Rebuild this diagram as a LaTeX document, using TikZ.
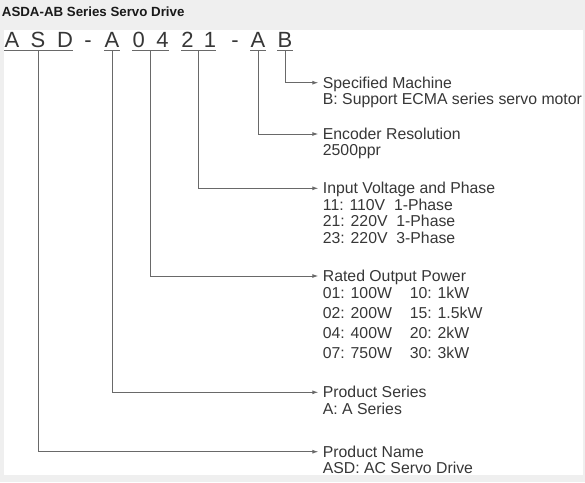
\documentclass[tikz,border=0pt]{standalone}
\usepackage{fontspec}
\setmainfont{Liberation Sans}
\usetikzlibrary{arrows.meta,calc}

\definecolor{pagegray}{RGB}{239,239,239}
\definecolor{inkgray}{RGB}{55,55,55}
\definecolor{linegray}{RGB}{105,105,105}

\begin{document}
\begin{tikzpicture}[x=1pt, y=-1pt,
	code/.style = {inner sep=0pt, anchor=base, text=inkgray, font=\fontsize{22}{26}\selectfont},
	uline/.style = {draw=linegray, line width=0.9pt},
	conn/.style = {draw=linegray, line width=0.9pt, -{Latex[length=6pt,width=4pt]}},
	head/.style = {inner sep=0pt, anchor=base west, text height=11pt, text depth=0pt,
		text=inkgray, font=\fontsize{15.8}{16.5}\selectfont},
	info/.style = {inner sep=0pt, anchor=north west, align=left,
		text=inkgray, font=\fontsize{15.8}{16.5}\selectfont}]
		% page and panel
		\useasboundingbox (0,0) rectangle (585,482);
		\fill[pagegray] (0,0) rectangle (585,482);
		\fill[white] (4,30) rectangle (583,475);
		\node[anchor=base west, inner sep=0pt, text=black!90,
			font=\bfseries\fontsize{13.3}{16}\selectfont] (title) at (1.7,16.7) {ASDA-AB Series Servo Drive};
		% model code
		\node[code] (cA1) at (12,47.3) {A};
		\node[code] (cS) at (38,47.3) {S};
		\node[code] (cD) at (65,47.3) {D};
		\node[code] (dash1) at (88,47.3) {-};
		\node[code] (cA2) at (112,47.3) {A};
		\node[code] (c0) at (138.8,47.3) {0};
		\node[code] (c4) at (162.5,47.3) {4};
		\node[code] (c2) at (187.5,47.3) {2};
		\node[code] (c1) at (210,47.3) {1};
		\node[code] (dash2) at (235,47.3) {-};
		\node[code] (cA3) at (258,47.3) {A};
		\node[code] (cB) at (285,47.3) {B};
		\draw[uline] ([yshift=-3.4pt]cA1.base west) -- ([yshift=-3.4pt]cD.base east);
		\draw[uline] ([yshift=-3.4pt]cA2.base west) -- ([yshift=-3.4pt]cA2.base east);
		\draw[uline] ([yshift=-3.4pt]c0.base west) -- ([yshift=-3.4pt]c4.base east);
		\draw[uline] ([yshift=-3.4pt]c2.base west) -- ([yshift=-3.4pt]c1.base east);
		\draw[uline] ([yshift=-3.4pt]cA3.base west) -- ([yshift=-3.4pt]cA3.base east);
		\draw[uline] ([yshift=-3.4pt]cB.base west) -- ([yshift=-3.4pt]cB.base east);
		% descriptions
		\node[head] (hMachine) at (322.7,88.2) {Specified Machine};
		\node[info] (dMachine) at ([yshift=-5pt]hMachine.base west) {B: Support ECMA series servo motor};
		\node[head] (hEncoder) at (322.7,139.5) {Encoder Resolution};
		\node[info] (dEncoder) at ([yshift=-5pt]hEncoder.base west) {2500ppr};
		\node[head] (hVoltage) at (322.7,193.8) {Input Voltage and Phase};
		\node[info] (dVoltage) at ([yshift=-5pt]hVoltage.base west) {11: 110V\ \ 1-Phase\\21: 220V\ \ 1-Phase\\23: 220V\ \ 3-Phase};
		\node[head] (hPower) at (322.7,281.5) {Rated Output Power};
		\node[info] (dPower) at ([yshift=-2.5pt]hPower.base west) {\def\arraystretch{1.212}%
			\begin{tabular}{@{}p{87pt}@{}l@{}}
				01: 100W & 10: 1kW\\
				02: 200W & 15: 1.5kW\\
				04: 400W & 20: 2kW\\
				07: 750W & 30: 3kW
			\end{tabular}};
		\node[head] (hSeries) at (322.7,397.8) {Product Series};
		\node[info] (dSeries) at ([yshift=-5pt]hSeries.base west) {A: A Series};
		\node[head] (hName) at (322.7,457.2) {Product Name};
		\node[info] (dName) at ([yshift=-5pt]hName.base west) {ASD: AC Servo Drive};
		% connectors
		\draw[conn] ([yshift=-3.4pt]cB.base) |- ([xshift=-4.4pt]hMachine.west);
		\draw[conn] ([yshift=-3.4pt]cA3.base) |- ([xshift=-4.4pt]hEncoder.west);
		\draw[conn] ($(c2.base)!0.5!(c1.base)+(0,3.4)$) |- ([xshift=-4.4pt]hVoltage.west);
		\draw[conn] ($(c0.base)!0.5!(c4.base)+(0,3.4)$) |- ([xshift=-4.4pt]hPower.west);
		\draw[conn] ([yshift=-3.4pt]cA2.base) |- ([xshift=-4.4pt]hSeries.west);
		\draw[conn] ([yshift=-3.4pt]cS.base) |- ([xshift=-4.4pt]hName.west);
\end{tikzpicture}
\end{document}
